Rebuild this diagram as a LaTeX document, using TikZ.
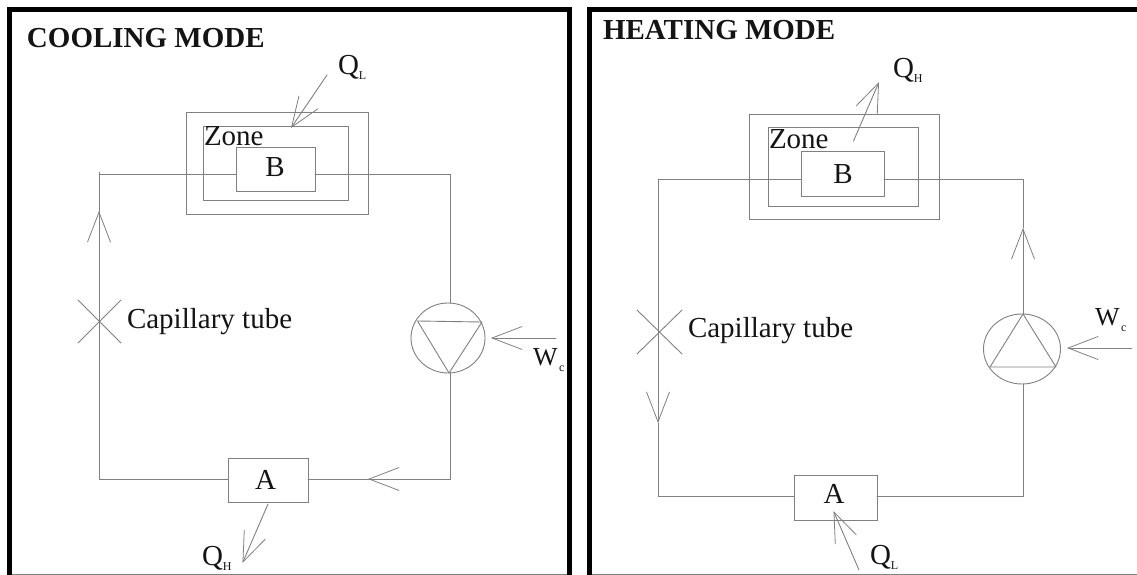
\documentclass[tikz,border=0pt]{standalone}
\usepackage{fontspec}
\setmainfont{Liberation Serif}
\usetikzlibrary{arrows.meta}
\tikzset{
  x=1pt,y=-1pt,
  wire/.style={draw=black!50,line width=0.9pt,line cap=round},
  flow/.style={wire,-{Straight Barb[length=30pt,width=23pt,line width=0.8pt]}},
  rect/.style={draw=black!50,line width=0.9pt,fill=none},
  boxn/.style={rect,inner sep=0pt,outer sep=0pt},
  lab/.style={inner sep=0pt,outer sep=0pt,anchor=base west,text=black!92,font=\fontsize{29}{29}\selectfont},
  title/.style={lab,font=\fontsize{29}{29}\selectfont\bfseries},
  wlab/.style={lab,font=\fontsize{26}{26}\selectfont},
  frameb/.style={draw=black,line width=5pt,line cap=butt,line join=miter},
  framet/.style={draw=black!50,line width=0.8pt}
}
\newcommand{\qsb}[2]{#1\raisebox{-5pt}{\fontsize{12}{12}\selectfont #2}}
\begin{document}
\begin{tikzpicture}
\useasboundingbox (0,0) rectangle (1137,575);
% frames
\draw[framet] (7,574) -- (572,574);
\draw[framet] (587,574) -- (1137,574);
\draw[frameb] (9.5,575) -- (9.5,9.5) -- (569.7,9.5) -- (569.7,575);
\draw[frameb] (589.5,575) -- (589.5,9.5) -- (1137,9.5);

%%%% COOLING MODE
\node[title] (ct) at (27,48) {COOLING MODE};
\node[boxn,minimum width=182pt,minimum height=102pt] (co) at (277,163) {};
\node[boxn,minimum width=145pt,minimum height=74pt] (cm) at (275.5,163) {};
\node[boxn,minimum width=79pt,minimum height=44pt] (cb) at (275.5,169) {};
\node[lab] (cz) at (204,146) {Zone};
\node[lab,anchor=base] (cbl) at (275,176) {B};
\node[boxn,minimum width=80pt,minimum height=44pt] (ca) at (268,480) {};
\node[lab,anchor=base] (cal) at (265.5,489) {A};
\node[lab] (ccap) at (127,328) {Capillary tube};
\node[lab] (cql) at (338,75) {\qsb{Q}{L}};
\node[lab] (cqh) at (202,565) {\qsb{Q}{H}};
\node[wlab] (cw) at (533,365) {W\hspace{1.5pt}\raisebox{-6pt}{\fontsize{12}{12}\selectfont c}};
% compressor
\draw[wire] (448,338) ellipse [x radius=37,y radius=35];
\coordinate (cpt) at (450,303);
\coordinate (cpb) at (450,373);
\draw[wire,line join=round] (417.5,321) -- (482,322) -- (449,373) -- cycle;
% pipes
\coordinate (ctl) at (99,174);
\coordinate (ctr) at (450,174);
\coordinate (cbl2) at (99,479);
\coordinate (cbr) at (450,479);
\coordinate (cup) at (99,211);
\coordinate (clt) at (368,479);
\draw[wire] (cb.east |- ctr) -- (ctr) -- (cpt);
\draw[wire] (cpb) -- (cbr) -- (clt);
\draw[flow] (cbr) -- (clt);
\draw[wire] (clt) -- (ca.east |- clt);
\draw[wire] (ca.west |- clt) -- (cbl2) -- (cup);
\draw[flow] (cbl2) -- (cup);
\draw[wire] (cup) -- (99,172);
\draw[wire] (ctl) -- (cb.west |- ctl);
% capillary X
\draw[wire] (78,300) -- (121,343);
\draw[wire] (121,300) -- (78,343);
% heat and work arrows
\coordinate (cq1) at (327,75);
\coordinate (cq1t) at (291,128);
\draw[flow] (cq1) -- (cq1t);
\coordinate (cq2) at (268,504);
\coordinate (cq2t) at (242.5,563);
\draw[flow] (cq2) -- (cq2t);
\coordinate (cw1) at (556,338);
\coordinate (cw1t) at (491,338);
\draw[flow] (cw1) -- (cw1t);

%%%% HEATING MODE
\node[title] (ht) at (603,40) {HEATING MODE};
\node[boxn,minimum width=190pt,minimum height=105pt] (ho) at (844,166.5) {};
\node[boxn,minimum width=150pt,minimum height=79pt] (hm) at (843,166.5) {};
\node[boxn,minimum width=83pt,minimum height=45pt] (hb) at (842.5,173.5) {};
\node[lab] (hz) at (769,149) {Zone};
\node[lab,anchor=base] (hbl) at (843,183) {B};
\node[boxn,minimum width=83pt,minimum height=45pt] (ha) at (835.5,497.5) {};
\node[lab,anchor=base] (hal) at (834,503) {A};
\node[lab] (hcap) at (688,337) {Capillary tube};
\node[lab] (hqh) at (893,78) {\qsb{Q}{H}};
\node[lab] (hql) at (870,564) {\qsb{Q}{L}};
\node[wlab] (hw) at (1095,325) {W\hspace{1.5pt}\raisebox{-6pt}{\fontsize{12}{12}\selectfont c}};
% compressor
\draw[wire] (1022,349) ellipse [x radius=38.5,y radius=35];
\coordinate (hpt) at (1023,314);
\coordinate (hpb) at (1023,384);
\draw[wire,line join=round] (1023,314) -- (1056,367) -- (990,367) -- cycle;
% pipes
\coordinate (htl) at (658,179);
\coordinate (htr) at (1023,179);
\coordinate (hbl2) at (658,496);
\coordinate (hbr) at (1023,496);
\coordinate (hup) at (1023,228);
\coordinate (hdn) at (658,423);
\draw[wire] (hb.east |- htr) -- (htr) -- (hup);
\draw[flow] (hpt) -- (hup);
\draw[wire] (hpb) -- (hbr) -- (ha.east |- hbr);
\draw[wire] (ha.west |- hbr) -- (hbl2) -- (hdn);
\draw[flow] (htl) -- (hdn);
\draw[wire] (htl) -- (hb.west |- htl);
% capillary X
\draw[wire] (637,310) -- (682,354);
\draw[wire] (682,310) -- (637,354);
% heat and work arrows
\coordinate (hq1) at (853.5,141);
\coordinate (hq1t) at (879,82);
\draw[flow] (hq1) -- (hq1t);
\coordinate (hq2) at (859,570);
\coordinate (hq2t) at (833.5,511);
\draw[flow] (hq2) -- (hq2t);
\coordinate (hw1) at (1132,348);
\coordinate (hw1t) at (1067,348);
\draw[flow] (hw1) -- (hw1t);
\end{tikzpicture}
\end{document}
